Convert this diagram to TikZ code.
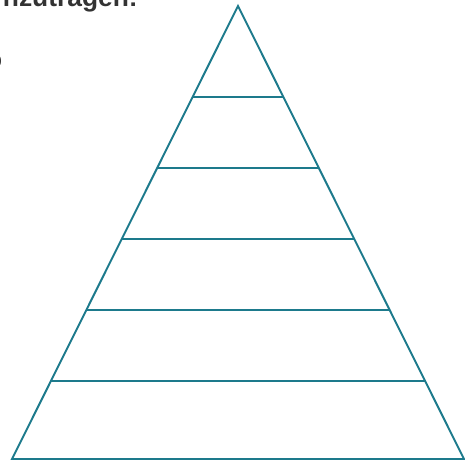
\documentclass[tikz,border=0pt]{standalone}
\usepackage{fontspec}
\setmainfont{Liberation Sans}
\definecolor{pyrteal}{RGB}{29,122,140}
\definecolor{txtgray}{RGB}{51,51,51}
\begin{document}
\begin{tikzpicture}
\useasboundingbox (0,0) rectangle (9.3,9.24);
\draw[pyrteal,line width=1.1pt,line join=miter] (4.76,9.12) -- (0.24,0.06) -- (9.28,0.06) -- cycle;
\draw[pyrteal,line width=1.1pt] (3.852,7.30) -- (5.668,7.30);
\draw[pyrteal,line width=1.1pt] (3.144,5.88) -- (6.376,5.88);
\draw[pyrteal,line width=1.1pt] (2.436,4.46) -- (7.084,4.46);
\draw[pyrteal,line width=1.1pt] (1.728,3.04) -- (7.792,3.04);
\draw[pyrteal,line width=1.1pt] (1.020,1.62) -- (8.500,1.62);
\node[txtgray,anchor=base east,inner sep=0pt,font=\fontsize{15}{18}\selectfont\bfseries] (head) at (2.76,9.10) {nzutragen:};
\node[txtgray,anchor=base east,inner sep=0pt,font=\fontsize{13}{16}\selectfont] (frag) at (0.05,7.88) {o};
\end{tikzpicture}
\end{document}
